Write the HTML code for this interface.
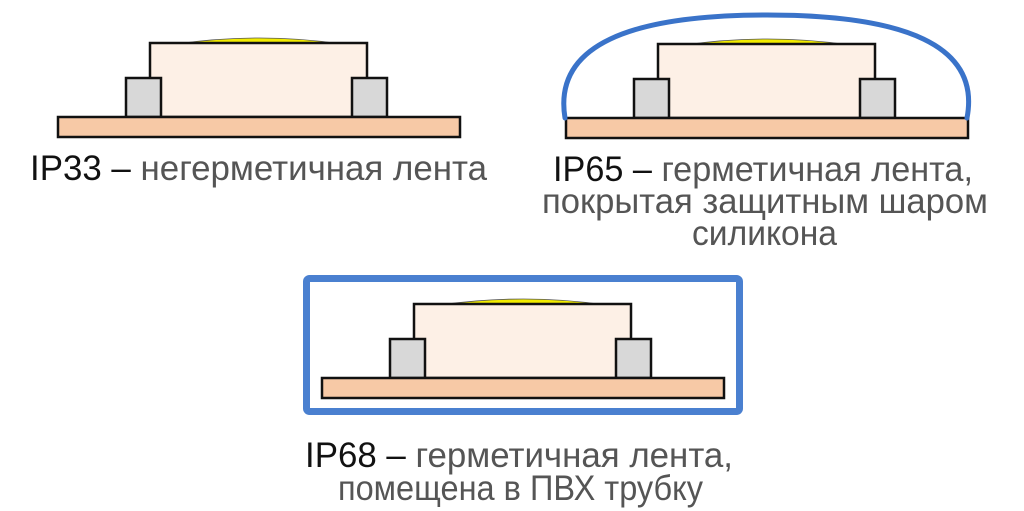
<!DOCTYPE html>
<html><head><meta charset="utf-8"><style>html,body{margin:0;padding:0;background:#fff}svg{display:block}</style></head>
<body>
<svg width="1024" height="511" viewBox="0 0 1024 511" xmlns="http://www.w3.org/2000/svg" font-family="'Liberation Sans', sans-serif" font-size="35">
<rect width="1024" height="511" fill="#fff"/>
<defs>
<g id="led">
  <path d="M26,1 Q110,-11 192,1 Z" fill="#f2ec00" stroke="#555" stroke-width="0.8"/>
  <rect x="0" y="0" width="217" height="74" fill="#fdf0e6" stroke="#111" stroke-width="2.5"/>
  <rect x="-24" y="35" width="35" height="39" fill="#d8d8d8" stroke="#111" stroke-width="2.5"/>
  <rect x="202" y="35" width="35" height="39" fill="#d8d8d8" stroke="#111" stroke-width="2.5"/>
  <rect x="-92" y="74" width="402" height="20" fill="#f7c9a6" stroke="#111" stroke-width="2.5"/>
</g>
</defs>
<use href="#led" x="150" y="43"/>
<use href="#led" x="658" y="44"/>
<use href="#led" x="414" y="304"/>
<path d="M565,118 C553,45 630,15 767,15 C904,15 981,45 967,118" fill="none" stroke="#3a73c9" stroke-width="5" stroke-linecap="round"/>
<rect x="306.5" y="278.5" width="433" height="133" rx="3" fill="none" stroke="#4a80d0" stroke-width="7"/>
<g fill="#555">
<text x="30" y="180" textLength="457" lengthAdjust="spacingAndGlyphs"><tspan fill="#111">IP33 –</tspan> негерметичная лента</text>
<text x="553" y="181" textLength="420" lengthAdjust="spacingAndGlyphs"><tspan fill="#111">IP65 –</tspan> герметичная лента,</text>
<text x="542" y="213" textLength="446" lengthAdjust="spacingAndGlyphs">покрытая защитным шаром</text>
<text x="692" y="245" textLength="145" lengthAdjust="spacingAndGlyphs">силикона</text>
<text x="305" y="467" textLength="428" lengthAdjust="spacingAndGlyphs"><tspan fill="#111">IP68 –</tspan> герметичная лента,</text>
<text x="338" y="500" textLength="365" lengthAdjust="spacingAndGlyphs">помещена в ПВХ трубку</text>
</g>
</svg>
</body></html>
